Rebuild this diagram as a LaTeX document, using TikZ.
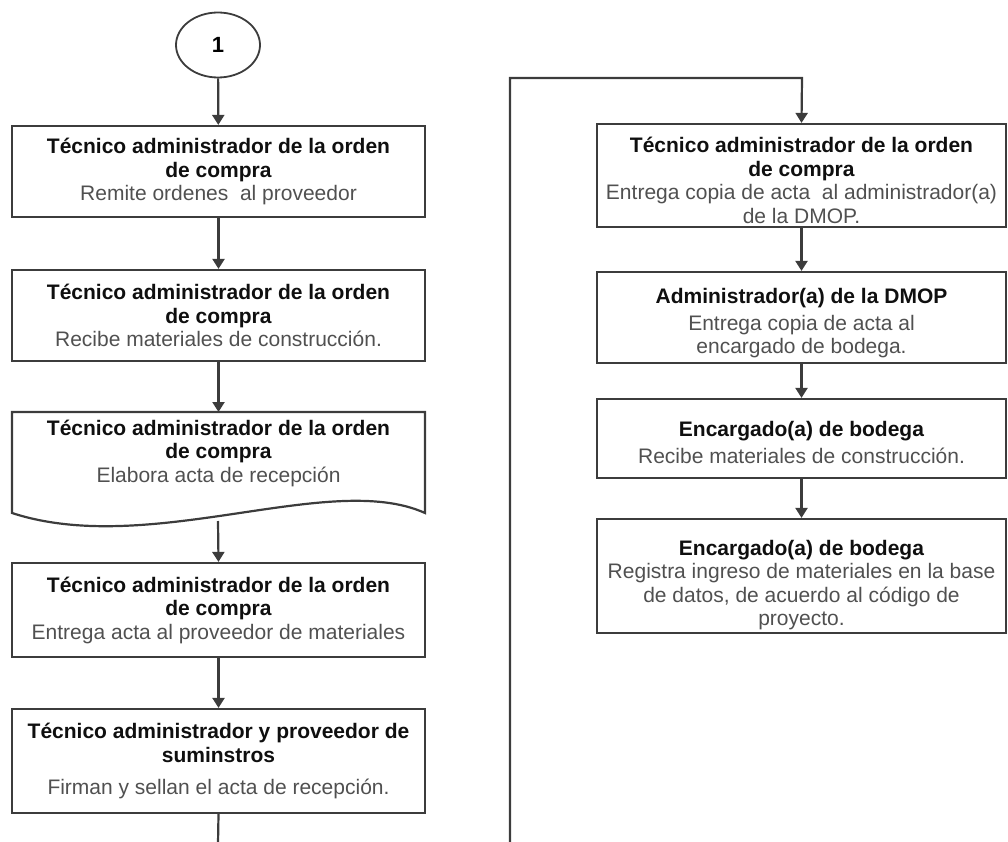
\documentclass[tikz,border=0pt]{standalone}
\usepackage{fontspec}
\setmainfont{Liberation Sans}
\usetikzlibrary{arrows.meta,shapes.geometric}
\definecolor{edge}{RGB}{60,60,60}
\definecolor{headtxt}{RGB}{15,15,15}
\definecolor{bodytxt}{RGB}{80,80,80}
\newcommand{\hd}[1]{\textcolor{headtxt}{\textbf{#1}}}
\newcommand{\bd}[1]{\textcolor{bodytxt}{#1}}
\begin{document}
\begin{tikzpicture}[x=1pt,y=-1pt,
  boxtext/.style={align=center, inner sep=0pt, font=\fontsize{21}{23.5}\selectfont},
  stepbox/.style={boxtext, draw=edge, line width=2.2pt, rectangle},
  leftbox/.style={stepbox, minimum width=413pt},
  rightbox/.style={draw=edge, line width=2.2pt, rectangle, inner sep=0pt, minimum width=409pt},
  flow/.style={draw=edge, line width=2.2pt, -{Triangle[width=12pt,length=10pt]}},
  plain/.style={draw=edge, line width=2.2pt}]
\useasboundingbox (0,0) rectangle (1008,842);

% connector circle
\node[draw=edge, line width=1.8pt, ellipse, minimum width=84pt, minimum height=65pt,
      font=\fontsize{22}{24}\selectfont\bfseries] (start) at (218,45) {1};

% left column
\node[leftbox, minimum height=91pt] (b1) at (218.5,171.5)
  {\hd{Técnico administrador de la orden}\\ \hd{de compra}\\ \bd{Remite ordenes\ \ al proveedor}};
\node[leftbox, minimum height=91pt] (b2) at (218.5,315.5)
  {\hd{Técnico administrador de la orden}\\ \hd{de compra}\\ \bd{Recibe materiales de construcción.}};

% document shape with wavy bottom
\draw[plain] (12,412) -- (425,412) -- (425,513)
  .. controls (330,470) and (150,558) .. (12,513) -- cycle;
\node[boxtext] (b3) at (218.5,453)
  {\hd{Técnico administrador de la orden}\\ \hd{de compra}\\ \bd{Elabora acta de recepción}};
\coordinate (b3out) at (218,521);

\node[leftbox, minimum height=94pt] (b4) at (218.5,610)
  {\hd{Técnico administrador de la orden}\\ \hd{de compra}\\ \bd{Entrega acta al proveedor de materiales}};
\node[leftbox, minimum height=104pt] (b5) at (218.5,761)
  {\hd{Técnico administrador y proveedor de}\\ \hd{suminstros}\\[9pt] \bd{Firman y sellan el acta de recepción.}};

% right column: frames, then their texts set a little below centre
\node[rightbox, minimum height=103pt] (b6) at (801.5,175.5) {};
\node[boxtext] (b6t) at ([yshift=-5pt]b6.center)
  {\hd{Técnico administrador de la orden}\\ \hd{de compra}\\ \bd{Entrega copia de acta\ \ al administrador(a)}\\ \bd{de la DMOP.}};
\node[rightbox, minimum height=91pt] (b7) at (801.5,317.5) {};
\node[boxtext] (b7t) at ([yshift=-6pt]b7.center)
  {\hd{Administrador(a) de la DMOP}\\[3pt] \bd{Entrega copia de acta al}\\ \bd{encargado de bodega.}};
\node[rightbox, minimum height=79pt] (b8) at (801.5,438.5) {};
\node[boxtext] (b8t) at ([yshift=-4pt]b8.center)
  {\hd{Encargado(a) de bodega}\\[3pt] \bd{Recibe materiales de construcción.}};
\node[rightbox, minimum height=114pt] (b9) at (801.5,576) {};
\node[boxtext] (b9t) at ([yshift=-9pt]b9.center)
  {\hd{Encargado(a) de bodega}\\ \bd{Registra ingreso de materiales en la base}\\ \bd{de datos, de acuerdo al código de}\\ \bd{proyecto.}};

% off-page ends of the link between the columns
\coordinate (lout) at (218,844);
\coordinate (rin) at (510,844);
\coordinate (rtop) at (802,78);

% connectors
\draw[flow] (start) -- (b1);
\draw[flow] (b1) -- (b2);
\draw[flow] (b2.south) -- (b2.south |- 0,412);
\draw[flow] (b3out) -- (b4.north);
\draw[flow] (b4) -- (b5);
\draw[plain] (b5.south) -- (lout);
\draw[flow] (rin) |- (rtop) -- (b6.north);
\draw[flow] (b6) -- (b7);
\draw[flow] (b7) -- (b8);
\draw[flow] (b8) -- (b9);
\end{tikzpicture}
\end{document}
